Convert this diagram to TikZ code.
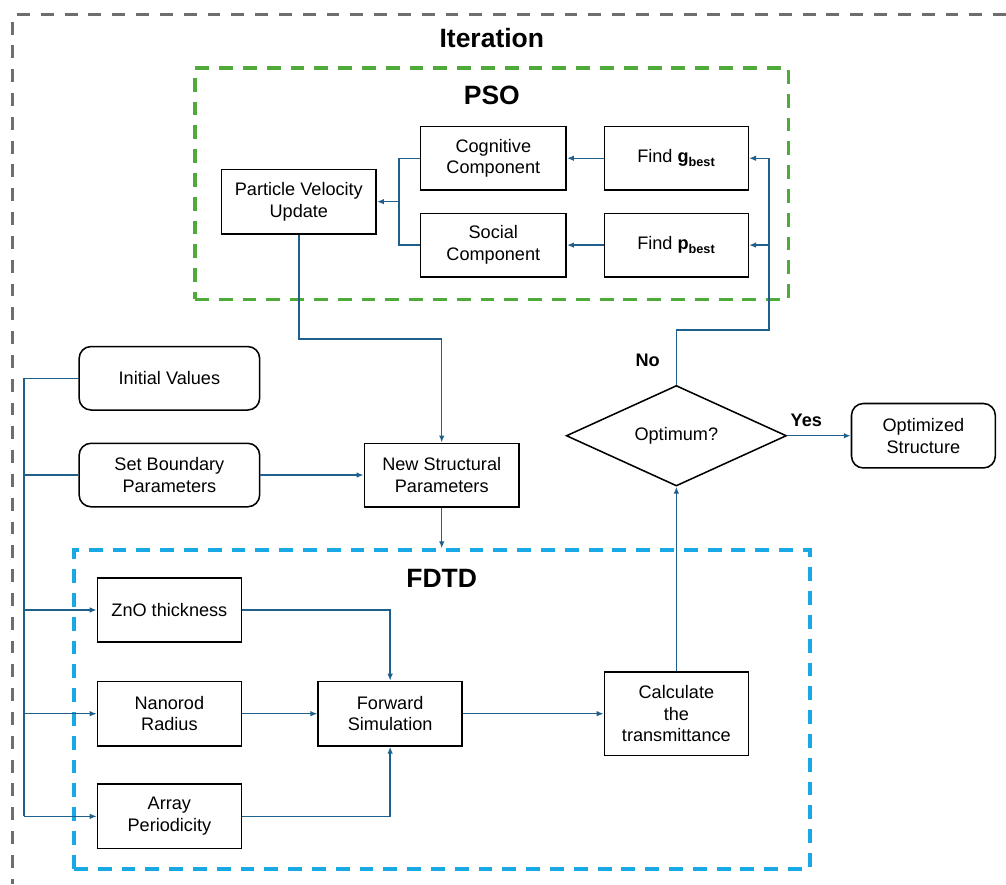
\documentclass[tikz,border=0pt]{standalone}
\usepackage{fontspec}
\setmainfont{Liberation Sans}
\usetikzlibrary{shapes.geometric,arrows.meta,positioning,calc,fit,backgrounds}
\definecolor{cline}{HTML}{1F5F8C}
\definecolor{cgreen}{HTML}{4FAA3A}
\definecolor{cblue}{HTML}{18A8E6}
\definecolor{cgray}{HTML}{6E6E6E}

\begin{document}
\begin{tikzpicture}[font=\fontsize{13}{15.5}\selectfont,>={Latex[length=5pt,width=4pt]},node distance=8mm]
  \tikzstyle{box}=[draw,line width=1.1pt,align=center,minimum width=36.25mm,minimum height=16.25mm,inner sep=1mm]
  \tikzstyle{rbox}=[box,rounded corners=3mm]
  \tikzstyle{link}=[draw=cline,line width=1.05pt]
  \tikzstyle{frame}=[draw,line width=2.5pt,dash pattern=on 3.5mm off 2.5mm,inner sep=0pt]
  \tikzstyle{title}=[font=\fontsize{19}{22}\selectfont\bfseries]
  \tikzstyle{lbl}=[font=\fontsize{13}{15.5}\selectfont\bfseries]

  % inputs
  \node[rbox,minimum width=45.5mm,minimum height=16mm] (init) {Initial Values};
  \node[rbox,minimum width=45.5mm,minimum height=16mm,below=8mm of init] (bound) {Set Boundary\\Parameters};
  \node[box,minimum width=39mm,minimum height=16mm,right=26mm of bound] (nsp) {New Structural\\Parameters};
  % FDTD part
  \node[box,below=17.5mm of bound] (zno) {ZnO thickness};
  \node[box,below=9.5mm of zno] (nano) {Nanorod\\Radius};
  \node[box,below=9.25mm of nano] (arr) {Array\\Periodicity};
  \node[box,right=19mm of nano] (fwd) {Forward\\Simulation};
  \node[box,minimum height=21mm,right=35.5mm of fwd] (calc) {Calculate\\the\\transmittance};
  % decision
  \node[diamond,draw,line width=1.1pt,minimum width=55.5mm,minimum height=24.75mm,inner sep=0pt,above=46.5mm of calc] (opt) {Optimum?};
  \node[rbox,right=16mm of opt] (res) {Optimized\\Structure};
  % PSO part
  \node[box,minimum height=16mm,above=27mm of opt] (pbest) {Find \textbf{p\textsubscript{best}}};
  \node[box,minimum height=16mm,above=5.5mm of pbest] (gbest) {Find \textbf{g\textsubscript{best}}};
  \node[box,minimum width=36.75mm,minimum height=16mm,left=9.25mm of pbest] (soc) {Social\\Component};
  \node[box,minimum width=36.75mm,minimum height=16mm,left=9.25mm of gbest] (cog) {Cognitive\\Component};
  \coordinate (mid) at ($(cog.west)!.5!(soc.west)$);
  \node[box,minimum width=39mm,left=10.75mm of mid] (pvu) {Particle Velocity\\Update};

  % frames
  \coordinate (pso-tl) at ($(pvu.west|-cog.north)+(-6.5mm,14.5mm)$);
  \coordinate (pso-br) at ($(gbest.east|-soc.south)+(10mm,-5.5mm)$);
  \node[frame,draw=cgreen,fit=(pso-tl)(pso-br)] (pso) {};
  \node[title] (psot) at ($(pso.north)+(0,-7.25mm)$) {PSO};
  \coordinate (fdtd-tl) at ($(zno.north west)+(-5.75mm,6.75mm)$);
  \coordinate (fdtd-br) at ($(calc.east|-arr.south)+(15.25mm,-5mm)$);
  \node[frame,draw=cblue,line width=2.8pt,fit=(fdtd-tl)(fdtd-br)] (fdtd) {};
  \node[title] (fdtdt) at ($(fdtd.north)+(0,-7.5mm)$) {FDTD};
  \node[title] (itert) at ($(pso.north)+(0,7.25mm)$) {Iteration};

  % helper points
  \coordinate (bus) at ($(init.west)+(-13.75mm,0)$);
  \coordinate (join) at ($(cog.west)+(-5.25mm,0)$);
  \coordinate (loop) at ($(gbest.east)+(5mm,0)$);
  \coordinate (it-tl) at ($(bus|-pso.north)+(-2.75mm,13mm)$);
  \coordinate (bb-tl) at ($(it-tl)+(-3.25mm,3.75mm)$);
  \coordinate (bb-br) at ($(res.east|-fdtd.south)+(2.5mm,-3.25mm)$);
  \draw[frame,draw=cgray,line width=2.2pt,dash pattern=on 3.25mm off 2.75mm] (bb-br|-it-tl) -- (it-tl) -- (it-tl|-bb-br);

  % inputs bus
  \draw[link] (init.west) -- (bus) -- (bus|-arr.west);
  \draw[link] (bus|-bound.west) -- (bound.west);
  \draw[link,->] (bus|-zno.west) -- (zno.west);
  \draw[link,->] (bus|-nano.west) -- (nano.west);
  \draw[link,->] (bus|-arr.west) -- (arr.west);
  % flow
  \draw[link,->] (bound) -- (nsp);
  \draw[link,->] (nsp.south) -- (nsp.south|-fdtd.north);
  \draw[link,->] (pvu.south) -- ++(0,-26.25mm) -| (nsp.north);
  \draw[link,->] (zno.east) -| (fwd.north);
  \draw[link,->] (nano) -- (fwd);
  \draw[link,->] (arr.east) -| (fwd.south);
  \draw[link,->] (fwd) -- (calc);
  \draw[link,->] (calc.north) -- (opt.south);
  \draw[link,->] (opt.east) -- node[lbl,above=3pt,pos=0.3]{Yes} (res.west);
  \draw[link] (opt.north) -- ++(0,13.75mm) -| (loop);
  \node[lbl] (no) at ($(opt.north)+(-7.25mm,6.25mm)$) {No};
  \draw[link,->] (loop) -- (gbest.east);
  \draw[link,->] (loop|-pbest.east) -- (pbest.east);
  \draw[link,->] (gbest) -- (cog);
  \draw[link,->] (pbest) -- (soc);
  \draw[link] (cog.west) -- (join) |- (soc.west);
  \draw[link,->] (join|-pvu.east) -- (pvu.east);

  \pgfresetboundingbox
  \useasboundingbox (bb-tl) rectangle (bb-br);
\end{tikzpicture}
\end{document}
